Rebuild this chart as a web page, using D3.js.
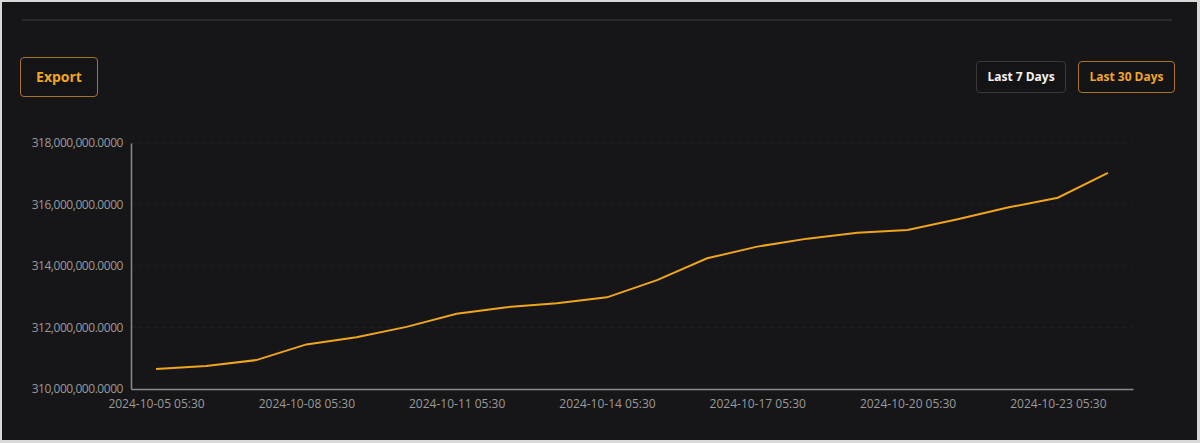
<!DOCTYPE html>
<html>
  <head>
    <meta charset="utf-8">
    <style>
      body {
        margin: 0;
        background-color: #d9d9d9;
        font-family: "Open Sans", sans-serif;
      }

      #panel {
        position: absolute;
        left: 2px;
        top: 2px;
        width: 1195px;
        height: 438px;
        background-color: #161618;
        overflow: hidden;
      }

      #topline {
        position: absolute;
        left: 20px;
        top: 17px;
        width: 1150px;
        height: 2px;
        background-color: #2a2a2c;
      }

      .btn {
        position: absolute;
        box-sizing: border-box;
        border-radius: 4px;
        font-weight: 700;
        text-align: center;
        background-color: #141416;
      }

      #export {
        left: 18px;
        top: 55px;
        width: 78px;
        height: 40px;
        line-height: 38px;
        border: 1px solid #a8742a;
        color: #f0a526;
        font-size: 14px;
      }

      #last7 {
        left: 974px;
        top: 59px;
        width: 90px;
        height: 32px;
        line-height: 30px;
        border: 1px solid #3a3a3e;
        color: #f2f2f2;
        font-size: 12px;
      }

      #last30 {
        left: 1076px;
        top: 59px;
        width: 97px;
        height: 32px;
        line-height: 30px;
        border: 1px solid #a8742a;
        color: #f0a526;
        font-size: 12px;
      }

      svg {
        position: absolute;
        left: -2px;
        top: -2px;
      }

      .axis text {
        fill: #9a9a9a;
        font-family: "Open Sans", sans-serif;
        font-size: 12px;
      }

      .y.axis text {
        letter-spacing: -0.45px;
      }

      .axis path {
        stroke: #8a8a8a;
        stroke-width: 1.5px;
      }
    </style>
  </head>
  <body>
    <div id="panel">
      <div id="topline"></div>
      <div class="btn" id="export">Export</div>
      <div class="btn" id="last7">Last 7 Days</div>
      <div class="btn" id="last30">Last 30 Days</div>
    </div>
    <script src="https://cdn.jsdelivr.net/npm/d3@7"></script>
    <script>
      var dates = [
        "2024-10-05 05:30", "2024-10-06 05:30", "2024-10-07 05:30", "2024-10-08 05:30",
        "2024-10-09 05:30", "2024-10-10 05:30", "2024-10-11 05:30", "2024-10-12 05:30",
        "2024-10-13 05:30", "2024-10-14 05:30", "2024-10-15 05:30", "2024-10-16 05:30",
        "2024-10-17 05:30", "2024-10-18 05:30", "2024-10-19 05:30", "2024-10-20 05:30",
        "2024-10-21 05:30", "2024-10-22 05:30", "2024-10-23 05:30", "2024-10-24 05:30"
      ];

      var supply = [
        310650000, 310750000, 310940000, 311450000, 311680000, 312020000, 312450000,
        312660000, 312790000, 312980000, 313540000, 314250000, 314630000, 314890000,
        315080000, 315170000, 315520000, 315900000, 316220000, 317030000
      ];

      var xTickLabels = [
        "2024-10-05 05:30", "2024-10-08 05:30", "2024-10-11 05:30", "2024-10-14 05:30",
        "2024-10-17 05:30", "2024-10-20 05:30", "2024-10-23 05:30"
      ];

      var yTicks = [310000000, 312000000, 314000000, 316000000, 318000000];

      var margin = { top: 143, right: 67, bottom: 54, left: 131 },
          width = 1200,
          height = 443;

      var data = dates.map(function(d, i) {
        return { date: d, value: supply[i] };
      });

      var svg = d3.select("#panel")
        .append("svg")
        .attr("width", width)
        .attr("height", height);

      var x = d3.scalePoint()
        .domain(dates)
        .range([margin.left, width - margin.right])
        .padding(0.5);

      var y = d3.scaleLinear()
        .domain([310000000, 318000000])
        .range([height - margin.bottom, margin.top]);

      // faint dashed grid lines
      svg.append("g")
        .selectAll("line")
        .data(yTicks.slice(1))
        .enter()
        .append("line")
        .attr("x1", margin.left)
        .attr("x2", width - margin.right)
        .attr("y1", function(d) { return y(d); })
        .attr("y2", function(d) { return y(d); })
        .attr("stroke", "#202023")
        .attr("stroke-dasharray", "4,4");

      svg.append("g")
        .attr("class", "x axis")
        .attr("transform", "translate(0," + (height - margin.bottom) + ")")
        .call(d3.axisBottom(x).tickValues(xTickLabels).tickSize(0).tickPadding(10));

      svg.append("g")
        .attr("class", "y axis")
        .attr("transform", "translate(" + margin.left + ",0)")
        .call(d3.axisLeft(y).tickValues(yTicks).tickFormat(d3.format(",.4f")).tickSize(0).tickPadding(8));

      var line = d3.line()
        .x(function(d) { return x(d.date); })
        .y(function(d) { return y(d.value); });

      svg.append("path")
        .datum(data)
        .attr("d", line)
        .attr("fill", "none")
        .attr("stroke", "#f0a51c")
        .attr("stroke-width", 2);
    </script>
  </body>
</html>
